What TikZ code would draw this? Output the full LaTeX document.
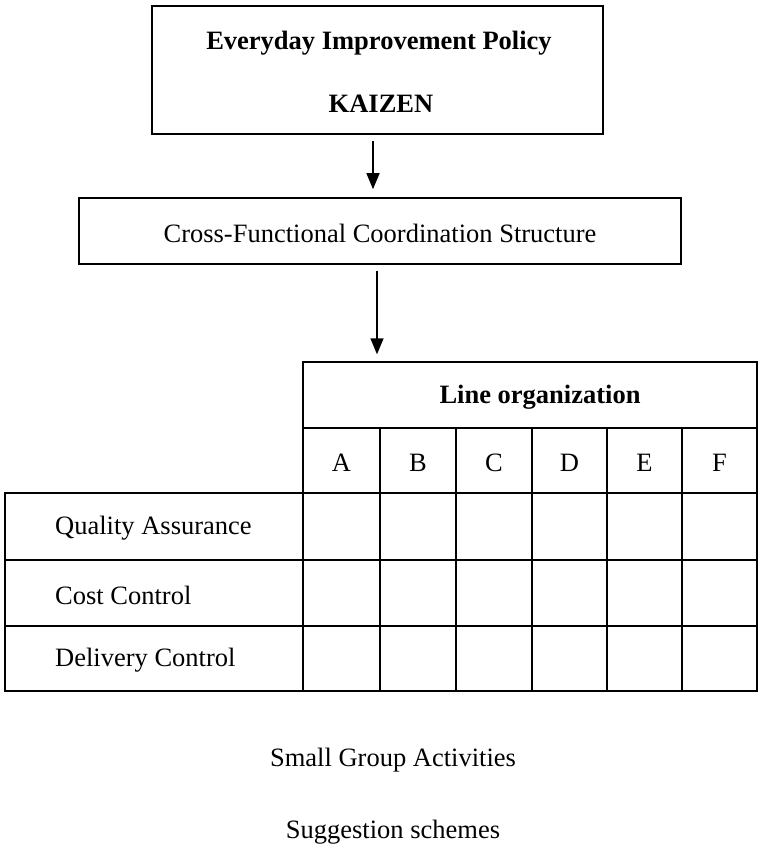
\documentclass[tikz,border=0pt]{standalone}
\usepackage{fontspec}
\setmainfont{Liberation Serif}
\usetikzlibrary{arrows.meta,calc}
\begin{document}
\begin{tikzpicture}[x=1pt,y=-1pt,
  frame/.style={draw, line width=1.6pt, rectangle, inner sep=0pt},
  cell/.style={draw, line width=1.4pt, rectangle, inner sep=0pt},
  label/.style={font=\fontsize{26.5}{30}\selectfont, inner sep=0pt},
  boldlabel/.style={font=\fontsize{26.5}{30}\selectfont\bfseries, inner sep=0pt},
  arr/.style={line width=1.4pt, -{Triangle[length=16pt,width=13pt]}}]
\useasboundingbox (0,0) rectangle (762,850);

% policy box
\node[frame, minimum width=451pt, minimum height=128pt] (policy) at (377.5,70) {};
\node[boldlabel] (policyA) at (379,43) {Everyday Improvement Policy};
\node[boldlabel] (policyB) at (381,104) {KAIZEN};

% coordination box
\node[frame, minimum width=602pt, minimum height=66pt] (cfcs) at (380,231) {};
\node[label] (cfcsT) at (380,233) {Cross-Functional Coordination Structure};

% line organization header
\node[cell, minimum width=454pt, minimum height=66pt] (lineorg) at (530,395) {};
\node[boldlabel] (lineorgT) at (540,397) {Line organization};

% column heads and grid
\foreach \c/\xa/\xb in {A/303/380,B/380/456,C/456/532,D/532/607,E/607/682,F/682/757}{
  \node[cell, minimum width=\xb-\xa, minimum height=65pt] (col\c) at ({(\xa+\xb)/2},460.5) {};
  \node[label] (col\c T) at ({(\xa+\xb)/2},463) {\c};
  \foreach \r/\ya/\yb in {1/493/560,2/560/626,3/626/691}{
    \node[cell, minimum width=\xb-\xa, minimum height=\yb-\ya] (g\c\r) at ({(\xa+\xb)/2},{(\ya+\yb)/2}) {};
  }
}

% row heads
\foreach \r/\ya/\yb/\t in {1/493/560/Quality Assurance,2/560/626/Cost Control,3/626/691/Delivery Control}{
  \node[cell, minimum width=298pt, minimum height=\yb-\ya] (row\r) at (154,{(\ya+\yb)/2}) {};
  \node[label, anchor=west] (row\r T) at (55,{(\ya+\yb)/2+2}) {\t};
}

% free lines of text below the grid
\node[label] (sga) at (393,760) {Small Group Activities};
\node[label] (sug) at (393,832) {Suggestion schemes};

% arrows
\draw[arr, shorten <=6pt, shorten >=8pt] ([xshift=-4.5pt]policy.south) -- ([xshift=-4.5pt]policy.south |- cfcs.north);
\draw[arr, shorten <=6pt, shorten >=7pt] ([xshift=-3pt]cfcs.south) -- ([xshift=-3pt]cfcs.south |- lineorg.north);
\end{tikzpicture}
\end{document}
